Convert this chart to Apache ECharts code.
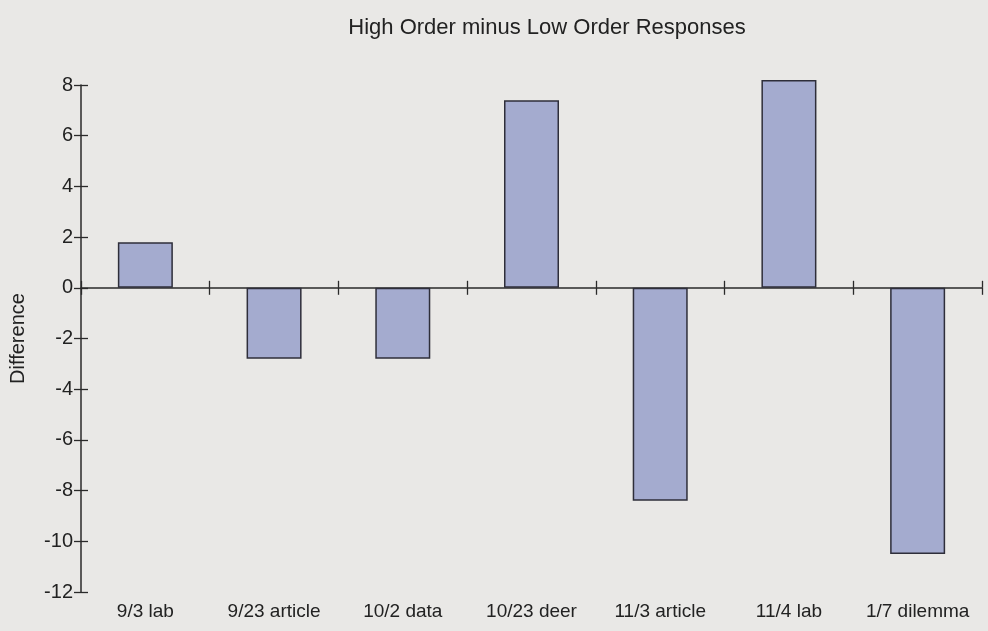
<!DOCTYPE html>
<html>
<head>
<meta charset="utf-8">
<script src="https://cdn.jsdelivr.net/npm/echarts@6/dist/echarts.min.js"></script>
<style>
html,body{margin:0;padding:0;background:#e9e8e6;}
#c{width:988px;height:631px;}
</style>
</head>
<body>
<div id="c"></div>
<script>
const titleText = 'High Order minus Low Order Responses';
const categories = ['9/3 lab', '9/23 article', '10/2 data', '10/23 deer', '11/3 article', '11/4 lab', '1/7 dilemma'];
const differences = [1.8, -2.8, -2.8, 7.4, -8.4, 8.2, -10.5];
const yTicks = { min: -12, max: 8, interval: 2 };
const yName = 'Difference';

const chart = echarts.init(document.getElementById('c'), null, {renderer: 'canvas'});
const font = 'Liberation Sans, Arial, Helvetica, sans-serif';
const ink = '#2a2a2a';
chart.setOption({
  backgroundColor: '#e9e8e6',
  animation: false,
  title: {
    text: titleText, left: 542, top: 12, textAlign: 'center',
    textStyle: {fontFamily: font, fontSize: 22, fontWeight: 'normal', color: '#222'}
  },
  grid: {left: 80, right: 6, top: 85, bottom: 39},
  xAxis: [
    {
      type: 'category', data: categories, position: 'bottom',
      axisLine: {show: false, onZero: false}, axisTick: {show: false},
      axisLabel: {interval: 0, hideOverlap: false, fontFamily: font, fontSize: 19, color: '#222', margin: 10}
    },
    {
      type: 'category', data: categories, position: 'bottom',
      axisLine: {show: true, onZero: true, onZeroAxisIndex: 0, lineStyle: {color: ink, width: 1.5}},
      axisTick: {show: true, interval: 0, length: 7, lineStyle: {color: ink, width: 1.3}},
      axisLabel: {show: false}
    },
    {
      type: 'category', data: categories, position: 'bottom',
      axisLine: {show: false, onZero: true, onZeroAxisIndex: 1},
      axisTick: {show: true, interval: 0, inside: true, length: 7, lineStyle: {color: ink, width: 1.3}},
      axisLabel: {show: false}
    }
  ],
  yAxis: [
    {
      type: 'value', position: 'left', min: yTicks.min, max: yTicks.max, interval: yTicks.interval,
      name: yName, nameLocation: 'middle', nameGap: 53, nameRotate: 90,
      nameTextStyle: {fontFamily: font, fontSize: 20, color: '#222'},
      axisLine: {show: true, onZero: false, lineStyle: {color: ink, width: 1.5}},
      axisTick: {show: true, length: 7, lineStyle: {color: ink, width: 1.3}},
      axisLabel: {fontFamily: font, fontSize: 20, color: '#222', margin: 8},
      splitLine: {show: false}
    },
    {
      type: 'value', position: 'left', min: yTicks.min, max: yTicks.max, interval: yTicks.interval,
      axisLine: {show: false, onZero: false},
      axisTick: {show: true, inside: true, length: 7, lineStyle: {color: ink, width: 1.3}},
      axisLabel: {show: false},
      splitLine: {show: false}
    }
  ],
  series: [{
    type: 'bar', data: differences, xAxisIndex: 0, yAxisIndex: 0, barWidth: 55, clip: false,
    itemStyle: {color: '#a4abcf', borderColor: '#2e2e3a', borderWidth: 1.5}
  }]
});
</script>
</body>
</html>
